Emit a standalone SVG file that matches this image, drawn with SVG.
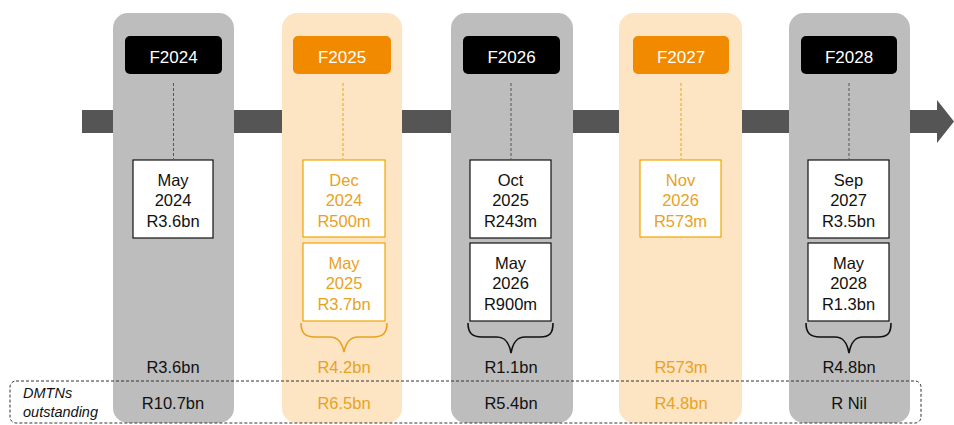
<svg xmlns="http://www.w3.org/2000/svg" width="954" height="425" viewBox="0 0 954 425">
<style>
text{font-family:"Liberation Sans",Arial,sans-serif;text-anchor:middle}
.t{font-size:16.5px;fill:#111}
.o{font-size:16.5px;fill:#E9A21E}
.h{font-size:17px;fill:#fff}
.colg{fill:#BDBDBD}
.colo{fill:#FDE4C3}
.bx{fill:#fff;stroke:#111;stroke-width:1.2}
.bo{fill:#fff;stroke:#F0A500;stroke-width:1.2}
.dl{stroke:#555;stroke-width:1;stroke-dasharray:3 2}
.dlo{stroke:#E9A21E;stroke-width:1;stroke-dasharray:3 2}
.br{fill:none;stroke:#111;stroke-width:1.6}
.bro{fill:none;stroke:#E9A21E;stroke-width:1.6}
.it{font-size:14.5px;font-style:italic;fill:#111;text-anchor:start}
</style>
<rect width="954" height="425" fill="#fff"/>
<g id="timeline">
<rect x="82" y="110" width="856" height="23" fill="#555"/>
<polygon points="937,100 954,121.5 937,143" fill="#555"/>
</g>
<g id="col-F2024">
<rect class="colg" x="113" y="13" width="121" height="410" rx="15"/>
<rect x="125" y="36" width="97" height="38" rx="5" fill="#000"/>
<text class="h" x="173.5" y="63">F2024</text>
<line class="dl" x1="173.5" y1="83" x2="173.5" y2="159"/>
<rect class="bx" x="133" y="160" width="80" height="78"/>
<text class="t" x="173" y="186">May</text>
<text class="t" x="173" y="206">2024</text>
<text class="t" x="173" y="226.5">R3.6bn</text>
<text class="t" x="173" y="373">R3.6bn</text>
<text class="t" x="173" y="409">R10.7bn</text>
</g>
<g id="col-F2025">
<rect class="colo" x="282" y="13" width="120" height="410" rx="15"/>
<rect x="293" y="36" width="98" height="38" rx="5" fill="#F28A00"/>
<text class="h" x="342" y="63">F2025</text>
<line class="dlo" x1="343" y1="83" x2="343" y2="159"/>
<rect class="bo" x="303" y="160" width="82" height="77"/>
<text class="o" x="344" y="186">Dec</text>
<text class="o" x="344" y="206">2024</text>
<text class="o" x="344" y="226.5">R500m</text>
<rect class="bo" x="303" y="243" width="82" height="78"/>
<text class="o" x="344" y="269">May</text>
<text class="o" x="344" y="289">2025</text>
<text class="o" x="344" y="310">R3.7bn</text>
<path class="bro" d="M301,323 C301,333 305,337 315,337 L330,337 C338,337 342,342 344,352 C346,342 350,337 358,337 L373,337 C383,337 387,333 387,323"/>
<text class="o" x="344" y="373">R4.2bn</text>
<text class="o" x="344" y="409">R6.5bn</text>
</g>
<g id="col-F2026">
<rect class="colg" x="451" y="13" width="122" height="410" rx="15"/>
<rect x="463" y="36" width="97" height="38" rx="5" fill="#000"/>
<text class="h" x="511.5" y="63">F2026</text>
<line class="dl" x1="511" y1="83" x2="511" y2="159"/>
<rect class="bx" x="470" y="160" width="81" height="78"/>
<text class="t" x="510.5" y="186">Oct</text>
<text class="t" x="510.5" y="206">2025</text>
<text class="t" x="510.5" y="226.5">R243m</text>
<rect class="bx" x="470" y="243" width="81" height="78"/>
<text class="t" x="510.5" y="269">May</text>
<text class="t" x="510.5" y="289">2026</text>
<text class="t" x="510.5" y="310">R900m</text>
<path class="br" d="M468,323 C468,333 472,337 482,337 L497,337 C505,337 509,342 511,353 C513,342 517,337 525,337 L540,337 C550,337 553,333 553,323"/>
<text class="t" x="511" y="373">R1.1bn</text>
<text class="t" x="511" y="409">R5.4bn</text>
</g>
<g id="col-F2027">
<rect class="colo" x="619" y="13" width="123" height="410" rx="15"/>
<rect x="633" y="36" width="96" height="38" rx="5" fill="#F28A00"/>
<text class="h" x="681" y="63">F2027</text>
<line class="dlo" x1="681" y1="83" x2="681" y2="159"/>
<rect class="bo" x="640" y="160" width="81" height="77"/>
<text class="o" x="680.5" y="186">Nov</text>
<text class="o" x="680.5" y="206">2026</text>
<text class="o" x="680.5" y="226.5">R573m</text>
<text class="o" x="681" y="373">R573m</text>
<text class="o" x="681" y="409">R4.8bn</text>
</g>
<g id="col-F2028">
<rect class="colg" x="789" y="13" width="121" height="410" rx="15"/>
<rect x="801" y="36" width="96" height="38" rx="5" fill="#000"/>
<text class="h" x="849" y="63">F2028</text>
<line class="dl" x1="849" y1="83" x2="849" y2="159"/>
<rect class="bx" x="808" y="160" width="81" height="78"/>
<text class="t" x="848.5" y="186">Sep</text>
<text class="t" x="848.5" y="206">2027</text>
<text class="t" x="848.5" y="226.5">R3.5bn</text>
<rect class="bx" x="808" y="243" width="81" height="78"/>
<text class="t" x="848.5" y="269">May</text>
<text class="t" x="848.5" y="289">2028</text>
<text class="t" x="848.5" y="310">R1.3bn</text>
<path class="br" d="M806,323 C806,333 810,337 820,337 L835,337 C843,337 847,342 849,353 C851,342 855,337 863,337 L878,337 C888,337 891,333 891,323"/>
<text class="t" x="849" y="373">R4.8bn</text>
<text class="t" x="849" y="409">R Nil</text>
</g>
<g id="dmtn-row">
<rect x="10" y="381" width="911" height="42" rx="6" fill="none" stroke="#333" stroke-width="1" stroke-dasharray="3 2"/>
<text class="it" x="23" y="398">DMTNs</text>
<text class="it" x="23" y="417">outstanding</text>
</g>
</svg>
